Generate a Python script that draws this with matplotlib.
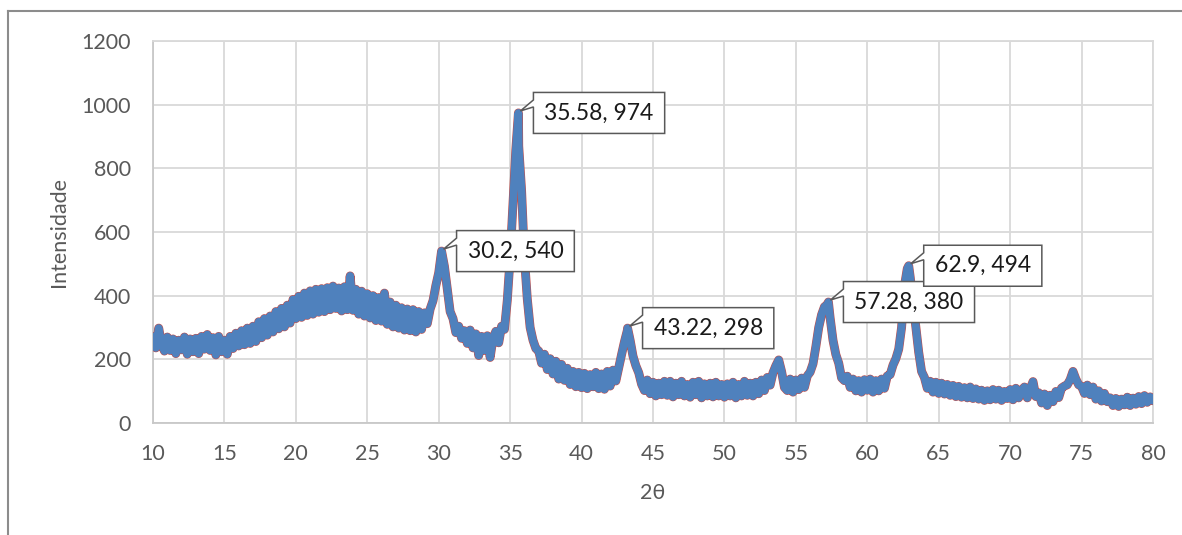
import numpy as np
import matplotlib
matplotlib.use("Agg")
import matplotlib.pyplot as plt
from matplotlib.patches import Polygon
from matplotlib.lines import Line2D
import matplotlib.transforms as mtransforms

plt.rcParams['font.family'] = ['Lato', 'DejaVu Sans']

# ---- data (2θ step 0.2 from 10 to 80) ----
two_theta = np.round(np.arange(10.0, 80.0001, 0.2), 1)
intensity = [
    272, 236, 298, 248, 226,
    270, 228, 264, 218, 260,
    230, 270, 216, 264, 224,
    266, 218, 272, 232, 278,
    228, 268, 214, 272, 224,
    260, 216, 272, 234, 282,
    242, 290, 246, 298, 250,
    304, 256, 318, 268, 328,
    276, 336, 286, 350, 296,
    360, 302, 370, 314, 388,
    328, 398, 332, 408, 338,
    415, 342, 420, 348, 422,
    350, 425, 356, 430, 360,
    424, 352, 428, 356, 462,
    354, 420, 342, 414, 336,
    406, 330, 400, 322, 394,
    320, 408, 310, 380, 302,
    370, 298, 362, 292, 358,
    290, 356, 286, 350, 294,
    346, 312, 358, 384, 432,
    472, 540, 492, 420, 350,
    328, 284, 304, 266, 290,
    250, 292, 236, 280, 212,
    272, 228, 274, 206, 266,
    288, 252, 304, 294, 385,
    520, 690, 860, 870, 730,
    520, 390, 300, 260, 234,
    226, 188, 216, 168, 202,
    154, 194, 138, 184, 134,
    172, 121, 162, 114, 159,
    111, 156, 108, 152, 114,
    159, 108, 154, 106, 162,
    116, 166, 132, 174, 215,
    255, 290, 260, 210, 180,
    158, 122, 102, 135, 92,
    128, 85, 125, 89, 131,
    87, 131, 82, 125, 89,
    131, 85, 121, 81, 128,
    89, 131, 79, 123, 85,
    125, 82, 128, 85, 121,
    81, 123, 85, 128, 79,
    121, 85, 131, 87, 125,
    85, 128, 92, 135, 102,
    143, 119, 158, 180, 198,
    162, 112, 102, 138, 97,
    135, 105, 141, 112, 148,
    160, 186, 240, 300, 340,
    365, 372, 330, 260, 215,
    188, 142, 133, 147, 112,
    138, 101, 133, 97, 136,
    103, 138, 97, 133, 101,
    138, 109, 148, 152, 182,
    202, 232, 300, 430, 485,
    460, 380, 300, 222, 162,
    143, 109, 131, 97, 128,
    93, 125, 91, 121, 87,
    118, 83, 115, 81, 111,
    79, 113, 77, 107, 75,
    103, 71, 101, 73, 105,
    75, 103, 71, 99, 77,
    105, 73, 109, 79, 103,
    113, 79, 107, 130, 83,
    95, 63, 91, 55, 87,
    67, 99, 80, 110, 116,
    120, 136, 162, 138, 120,
    115, 93, 119, 89, 113,
    75, 101, 69, 93, 67,
    79, 55, 77, 52, 75,
    57, 81, 55, 78, 59,
    83, 61, 86, 65, 82,
    70,
]

# labelled peaks
peak_x = [30.2, 35.58, 43.22, 57.28, 62.9]
peak_y = [540, 974, 298, 380, 494]
peak_labels = ["30.2, 540", "35.58, 974", "43.22, 298", "57.28, 380", "62.9, 494"]

x_ticks = [10, 15, 20, 25, 30, 35, 40, 45, 50, 55, 60, 65, 70, 75, 80]
y_ticks = [0, 200, 400, 600, 800, 1000, 1200]

# merge peak points into series
xs = np.concatenate([two_theta, [p for p in peak_x if not np.any(np.isclose(two_theta, p))]])
ys = np.concatenate([np.array(intensity, float),
                     [v for p, v in zip(peak_x, peak_y)
                      if not np.any(np.isclose(two_theta, p))]])
order = np.argsort(xs, kind="stable")
xs, ys = xs[order], ys[order]
for p, v in zip(peak_x, peak_y):
    ys[np.isclose(xs, p)] = v

W, H = 1182, 535
fig = plt.figure(figsize=(W / 100, H / 100), dpi=100)
ax = fig.add_axes([153 / W, 1 - 423 / H, 1000 / W, 382 / H])

grid_c = "#D9D9D9"
text_c = "#595959"

ax.plot(xs, ys, color="#C0504D", lw=6.4, solid_joinstyle="round",
        solid_capstyle="round", zorder=3)
ax.plot(xs, ys, color="#4F81BD", lw=5.6, solid_joinstyle="round",
        solid_capstyle="round", zorder=4)

ax.set_xlim(10, 80)
ax.set_ylim(0, 1200)
ax.set_xticks(x_ticks)
ax.set_yticks(y_ticks)
ax.grid(True, color=grid_c, lw=1.3, zorder=0)
ax.set_axisbelow(True)
for s in ax.spines.values():
    s.set_color(grid_c)
    s.set_linewidth(1.3)
ax.spines['left'].set_color("#C8C8C8")
ax.spines['bottom'].set_color("#C8C8C8")
ax.tick_params(length=0, labelsize=15.5, labelcolor=text_c)
ax.tick_params(axis='y', pad=16)
ax.tick_params(axis='x', pad=15)
ax.set_xlabel("2θ", fontsize=15.5, color=text_c, labelpad=14)
ax.set_ylabel("Intensidade", fontsize=15.5, color=text_c, labelpad=9)

# outer chart frame (top and left visible)
fig.add_artist(Line2D([8 / W, 1], [1 - 11 / H, 1 - 11 / H], transform=fig.transFigure,
                      color="#8C8C8C", lw=1.5))
fig.add_artist(Line2D([8 / W, 8 / W], [0, 1 - 11 / H], transform=fig.transFigure,
                      color="#8C8C8C", lw=1.5))

# callout labels
fig.canvas.draw()
renderer = fig.canvas.get_renderer()
px_in = 1 / 100.0
for px, py, lab in zip(peak_x, peak_y, peak_labels):
    trans = fig.dpi_scale_trans + mtransforms.ScaledTranslation(px, py, ax.transData)
    t = ax.text(26 * px_in, 0, lab, transform=trans, ha="left", va="center",
                fontsize=16.5, color="#1A1A1A", zorder=11)
    bb = t.get_window_extent(renderer)
    w = bb.width + 22
    L, R, T, B = 15, 15 + w, 20.5, -20.5
    verts = [(L, T), (R, T), (R, B), (L, B), (L, 6), (2, 2), (L, 13)]
    poly = Polygon([(a * px_in, b * px_in) for a, b in verts], closed=True,
                   transform=trans, facecolor="white", edgecolor="#595959",
                   lw=1.1, zorder=10, clip_on=False)
    ax.add_patch(poly)

fig.savefig("out.png", dpi=100)
